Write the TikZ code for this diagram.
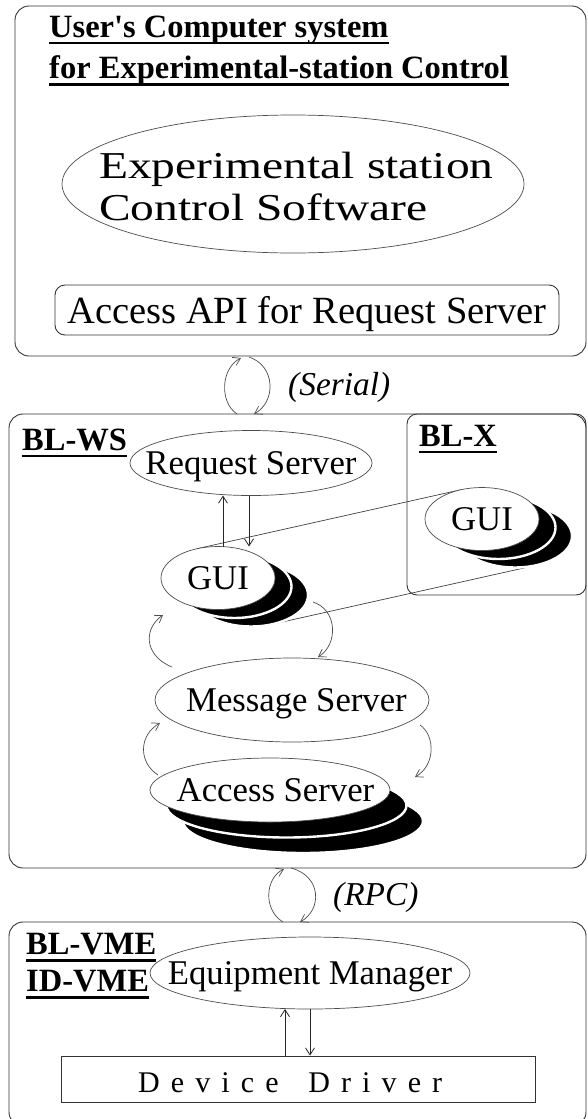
\documentclass[tikz,border=0pt]{standalone}
\usepackage{fontspec}
\setmainfont{Liberation Serif}
\usepackage{graphicx}
\usetikzlibrary{shapes.geometric,arrows.meta}
\newcommand\ovstack[6]{%
  \path[fill=black, draw=white, line width=2.4pt] (#1+2*#5,#2+2*#6) ellipse [x radius=#3, y radius=#4];
  \path[fill=black, draw=white, line width=2.4pt] (#1+#5,#2+#6) ellipse [x radius=#3, y radius=#4];
}
\newcommand\lk{\kern11.1pt}
\begin{document}
\begin{tikzpicture}[x=1pt,y=-1pt,
  boxfr/.style={draw=black!80, line width=0.9pt, rounded corners=14pt, inner sep=0pt, outer sep=0pt},
  oval/.style={ellipse, draw=black!70, line width=0.7pt, fill=white, inner sep=0pt, outer sep=0pt, text depth=0pt},
  lab/.style={font=\fontsize{34.7}{41}\selectfont},
  head/.style={font=\fontsize{32.5}{39}\selectfont\bfseries, inner sep=0pt, anchor=base west},
  uline/.style={line width=2.7pt},
  thinln/.style={draw=black!75, line width=0.7pt},
  arr/.style={draw=black!85, line width=0.8pt, -{Straight Barb[length=7pt,width=9pt]}},
  larr/.style={draw=black!70, line width=0.7pt, -{Straight Barb[length=7pt,width=9pt]}},
]
\useasboundingbox (0,0) rectangle (587,1119);

% ---------- frames ----------
\node[boxfr, minimum width=571pt, minimum height=350pt] (usr) at (300.5,181) {};
\node[boxfr, minimum width=577pt, minimum height=454pt] (ws) at (297.5,641) {};
\node[boxfr, rounded corners=10pt, minimum width=179pt, minimum height=181pt] (bx) at (496.5,504.5) {};
\node[boxfr, minimum width=577pt, minimum height=204pt] (vme) at (297.5,1024) {};

% ---------- top box ----------
\node[head] (h1) at (49,37) {User\textquotesingle s Computer system};
\node[head] (h2) at (49,78) {for Experimental-station Control};
\draw[uline] ([yshift=-6pt]h1.base west) -- ([yshift=-6pt]h1.base east);
\draw[uline] ([yshift=-6.5pt]h2.base west) -- ([yshift=-6.5pt]h2.base east);

\node[oval, minimum width=462pt, minimum height=138pt] (ecs) at (293,184) {};
\node[anchor=base west, inner sep=0pt, font=\fontsize{38}{42}\selectfont] (ecst) at (99,178)
  {\scalebox{1.25}[1]{\begin{tabular}[t]{@{}l@{}}Experimental station\\Control Software\end{tabular}}};

\node[boxfr, rounded corners=10pt, minimum width=504pt, minimum height=50pt,
      font=\fontsize{38.5}{46}\selectfont, text depth=0pt] (api) at (307,310)
  {\makebox[0pt]{Access API for Request Server}};

% ---------- serial link ----------
\node[anchor=base west, inner sep=0pt, font=\fontsize{33.4}{40}\selectfont\itshape] (ser) at (288,395) {(Serial)};
\coordinate (sl1) at (237,414); \coordinate (sl2) at (241,358);
\coordinate (sr1) at (249,357); \coordinate (sr2) at (254,414);
\draw[larr] (sl1) .. controls (219,402) and (221,368) .. (sl2);
\draw[larr] (sr1) .. controls (276,366) and (276,402) .. (sr2);

% ---------- BL-WS ----------
\node[head] (hws) at (22,450) {BL-WS};
\draw[uline] ([yshift=-6pt]hws.base west) -- ([yshift=-6pt]hws.base east);
\node[head] (hbx) at (419,446) {BL-X};
\draw[uline] ([yshift=-6pt]hbx.base west) -- ([yshift=-6pt]hbx.base east);

\node[oval, lab, minimum width=242pt, minimum height=65pt] (rs) at (251,463) {\makebox[0pt]{Request Server}};

% projection lines between the two GUI stacks
\coordinate (t1) at (196.6,548.8); \coordinate (t2) at (460.6,489.8);
\coordinate (b1) at (272.4,624.2); \coordinate (b2) at (536.4,565.2);
\draw[thinln] (t1) -- (t2);
\draw[thinln] (b1) -- (b2);

\ovstack{218}{578}{57}{31.5}{16.5}{8.5}
\node[oval, lab, minimum width=114pt, minimum height=63pt] (gl) at (218,578) {\makebox[0pt]{GUI}};
\ovstack{482}{519}{57}{31.5}{16.5}{8.5}
\node[oval, lab, minimum width=114pt, minimum height=63pt] (gr) at (482,519) {\makebox[0pt]{GUI}};

\coordinate (ux1) at (223,0); \coordinate (dx1) at (249,0);
\draw[arr] (ux1 |- gl.north) -- (ux1 |- rs.south);
\draw[arr] (dx1 |- rs.south) -- (dx1 |- gl.north);

\node[oval, lab, minimum width=274pt, minimum height=84pt] (ms) at (292,700) {\makebox[0pt]{\hspace{9pt}Message Server}};

\ovstack{270}{790}{120}{32}{16.5}{15.5}
\node[oval, lab, minimum width=240pt, minimum height=64pt] (as) at (270,790) {\makebox[0pt]{\hspace{11pt}Access Server}};

% loops GUI <-> Message Server <-> Access Server
\coordinate (gr1) at (313,602); \coordinate (gr2) at (318,657);
\coordinate (gl1) at (172,667); \coordinate (gl2) at (163,615);
\draw[larr] (gr1) .. controls (338,610) and (338,645) .. (gr2);
\draw[larr] (gl1) .. controls (143,655) and (144,628) .. (gl2);
\coordinate (ml1) at (158,775); \coordinate (ml2) at (160,723);
\coordinate (mr1) at (420,725); \coordinate (mr2) at (415,777);
\draw[larr] (ml1) .. controls (138,762) and (139,735) .. (ml2);
\draw[larr] (mr1) .. controls (435,735) and (436,765) .. (mr2);

% ---------- RPC link ----------
\node[anchor=base west, inner sep=0pt, font=\fontsize{33.4}{40}\selectfont\itshape] (rpc) at (333,905) {(RPC)};
\coordinate (rl1) at (283,922); \coordinate (rl2) at (284,869);
\coordinate (rr1) at (291,868); \coordinate (rr2) at (300,922);
\draw[larr] (rl1) .. controls (263,910) and (265,878) .. (rl2);
\draw[larr] (rr1) .. controls (322,876) and (322,910) .. (rr2);

% ---------- VME ----------
\node[head] (hbl) at (26,954) {BL-VME};
\draw[uline] ([yshift=-6.5pt]hbl.base west) -- ([yshift=-6.5pt]hbl.base east);
\node[head] (hid) at (26,991) {ID-VME};
\draw[uline] ([yshift=-6.5pt]hid.base west) -- ([yshift=-6.5pt]hid.base east);

\node[oval, lab, minimum width=320pt, minimum height=72pt] (em) at (310,973) {\makebox[0pt]{Equipment Manager}};
\node[draw=black!80, line width=0.8pt, minimum width=474pt, minimum height=46pt, inner sep=0pt] (dd) at (298,1079) {};
\node[anchor=base west, inner sep=0pt, font=\fontsize{30}{36}\selectfont] (ddt) at (138,1092)
  {D\lk e\lk v\lk i\lk c\lk e\lk\ \lk D\lk r\lk i\lk v\lk e\lk r};

\coordinate (ux2) at (285,0); \coordinate (dx2) at (310,0);
\draw[arr] (ux2 |- dd.north) -- (ux2 |- em.south);
\draw[arr] (dx2 |- em.south) -- (dx2 |- dd.north);
\end{tikzpicture}
\end{document}
